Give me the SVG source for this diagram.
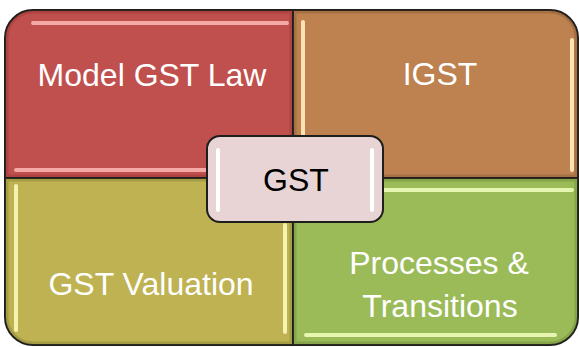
<svg xmlns="http://www.w3.org/2000/svg" width="579" height="347" viewBox="0 0 579 347">
<style>
.q{stroke:#1e1e1e;stroke-width:2;stroke-linejoin:round}
.t{font-family:"Liberation Sans",Arial,sans-serif;font-size:32px;fill:#ffffff;text-anchor:middle}
.c{fill:#000000}
.hl{stroke-width:4;stroke-linecap:round;fill:none;filter:url(#soft)}
.in{fill:none;stroke-width:3;opacity:0.35}
</style>
<defs>
<filter id="soft" filterUnits="userSpaceOnUse" x="0" y="0" width="579" height="347"><feGaussianBlur stdDeviation="0.7"/></filter>
</defs>
<rect width="579" height="347" fill="#ffffff"/>
<g id="model-gst-law">
<path class="q" d="M5,178 V38 A28,28 0 0 1 33,10 H293 V178 Z" fill="#C0504D"/>
<path class="in" d="M7,176 V39 A26,26 0 0 1 33,12 H291 V176 Z" stroke="#8a2f2c"/>
<line class="hl" x1="33" y1="23" x2="287" y2="23" stroke="#F4A9A6"/>
<line class="hl" x1="16" y1="170" x2="287" y2="170" stroke="#F4A9A6"/>
<text class="t" x="152" y="86">Model GST Law</text>
</g>
<g id="igst">
<path class="q" d="M293,10 H550 A28,28 0 0 1 578,38 V178 H293 Z" fill="#BE8150"/>
<path class="in" d="M295,12 H550 A26,26 0 0 1 576,38 V176 H295 Z" stroke="#7d4f2a"/>
<line class="hl" x1="303" y1="22" x2="303" y2="170" stroke="#FBE3B5"/>
<line class="hl" x1="572" y1="40" x2="572" y2="170" stroke="#FBE3B5"/>
<text class="t" x="440" y="85">IGST</text>
</g>
<g id="gst-valuation">
<path class="q" d="M5,178 H293 V345 H33 A28,28 0 0 1 5,317 Z" fill="#BEB252"/>
<path class="in" d="M7,180 H291 V343 H33 A26,26 0 0 1 7,317 Z" stroke="#7c732c"/>
<line class="hl" x1="16" y1="186" x2="16" y2="330" stroke="#F5F3AE"/>
<line class="hl" x1="285" y1="225" x2="285" y2="332" stroke="#F5F3AE"/>
<text class="t" x="151" y="295">GST Valuation</text>
</g>
<g id="processes-transitions">
<path class="q" d="M293,178 H578 V317 A28,28 0 0 1 550,345 H293 Z" fill="#9BBB59"/>
<path class="in" d="M295,180 H576 V317 A26,26 0 0 1 550,343 H295 Z" stroke="#5f7b2c"/>
<line class="hl" x1="300" y1="190" x2="572" y2="190" stroke="#E6F5B0"/>
<line class="hl" x1="306" y1="335" x2="555" y2="335" stroke="#E6F5B0"/>
<text class="t" x="439" y="274">Processes &amp;</text>
<text class="t" x="440" y="317">Transitions</text>
</g>
<g id="connectors"></g>
<g id="gst">
<rect class="q" x="207" y="136" width="176" height="86" rx="13" fill="#E8D3D5"/>
<line class="hl" x1="218" y1="150" x2="218" y2="210" stroke="#ffffff"/>
<line class="hl" x1="372" y1="150" x2="372" y2="210" stroke="#ffffff"/>
<text class="t c" x="296" y="191">GST</text>
</g>
</svg>
